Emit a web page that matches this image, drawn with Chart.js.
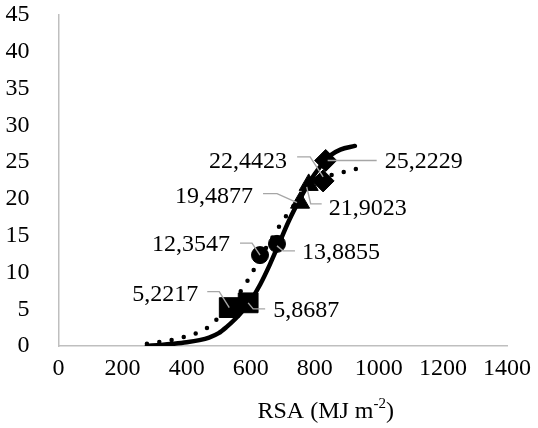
<!DOCTYPE html>
<html><head><meta charset="utf-8">
<script src="https://cdn.jsdelivr.net/npm/chart.js@4/dist/chart.umd.min.js"></script>
<style>html,body{margin:0;padding:0;background:#fff}canvas{display:block}</style>
</head><body>
<canvas id="c" width="538" height="428"></canvas>
<script>
// ---- data ----
const squareX = [533, 592];
const squareY = [5.2217, 5.8687];
const circleX = [629, 682];
const circleY = [12.3547, 13.8855];
const triangleX = [754, 781];
const triangleY = [19.4877, 21.9023];
const diamondX = [826, 834];
const diamondY = [22.4423, 25.2229];

const solidX = [276, 320, 360, 400, 440, 470, 500, 525, 550, 575, 600, 630, 660, 690, 720, 755, 785, 815, 848, 880, 925];
const solidY = [0.05, 0.15, 0.3, 0.5, 0.8, 1.15, 1.75, 2.6, 3.6, 4.8, 6.2, 8.4, 11.1, 14.1, 17.1, 20.1, 22.4, 24.3, 25.9, 26.7, 27.2];
const dottedX = [276, 310, 350, 380, 420, 445, 475, 500, 540, 570, 600, 630, 660, 700, 750, 800, 850, 885, 920, 965];
const dottedY = [0.3, 0.5, 0.8, 1.1, 1.6, 2.0, 2.8, 3.9, 5.9, 7.5, 9.6, 12.0, 14.2, 17.0, 19.9, 21.9, 23.2, 23.6, 24.0, 24.4];

const xMin = 0, xMax = 1400, xStep = 200;
const yMin = 0, yMax = 45, yStep = 5;
const xTitle = 'RSA (MJ m';
const xTitleSup = '-2';
const xTitleEnd = ')';

const pts = (xs, ys) => xs.map((x, i) => ({x, y: ys[i]}));
const FONT = 'Liberation Serif';
const FS = 24;

// label layout (pixel offsets from the marker)
const labelLayout = [
  {ds:0, i:0, tx:-31, ty:-15, align:'right', path:[[-22,-16],[-10,-16],[0,0]]},
  {ds:0, i:1, tx:25, ty:6, align:'left', path:[[0,0],[5,6],[17,6]]},
  {ds:1, i:0, tx:-30, ty:-12, align:'right', path:[[-20,-12],[-8,-12],[0,0]]},
  {ds:1, i:1, tx:25, ty:7, align:'left', path:[[0,2],[6,7],[18,7]]},
  {ds:2, i:0, tx:-47, ty:-8, align:'right', path:[[-37,-9],[-23,-9],[-3,0]]},
  {ds:2, i:1, tx:20, ty:22, align:'left', path:[[-2,2],[2,19],[13,19]]},
  {ds:3, i:0, tx:-36, ty:-21, align:'right', path:[[-26,-24],[-13,-24],[0,-4]]},
  {ds:3, i:1, tx:59, ty:-1, align:'left', path:[[2,0],[51,0]]}
];

const labelPlugin = {
  id: 'labels',
  afterDatasetsDraw(chart) {
    const ctx = chart.ctx;
    ctx.save();
    labelLayout.forEach(l => {
      const el = chart.getDatasetMeta(l.ds).data[l.i];
      const v = chart.data.datasets[l.ds].data[l.i].y;
      const px = el.x, py = el.y;
      ctx.strokeStyle = '#a6a6a6';
      ctx.lineWidth = 1.4;
      ctx.beginPath();
      l.path.forEach((p, k) => { if (k === 0) ctx.moveTo(px + p[0], py + p[1]); else ctx.lineTo(px + p[0], py + p[1]); });
      ctx.stroke();
      ctx.fillStyle = '#000';
      ctx.font = FS + 'px "' + FONT + '"';
      ctx.textAlign = l.align;
      ctx.textBaseline = 'alphabetic';
      ctx.fillText(v.toFixed(4).replace('.', ','), px + l.tx, py + l.ty + 0.34 * FS);
    });
    // x-axis title with superscript
    const ca = chart.chartArea;
    let x = ca.left + 199, y = 418;
    ctx.textAlign = 'left';
    ctx.font = FS + 'px "' + FONT + '"';
    ctx.fillText(xTitle, x, y);
    x += ctx.measureText(xTitle).width;
    ctx.font = '15px "' + FONT + '"';
    ctx.fillText(xTitleSup, x, y - 10);
    x += ctx.measureText(xTitleSup).width;
    ctx.font = FS + 'px "' + FONT + '"';
    ctx.fillText(xTitleEnd, x, y);
    ctx.restore();
  }
};

new Chart(document.getElementById('c'), {
  type: 'scatter',
  data: {
    datasets: [
      {data: pts(squareX, squareY), pointStyle:'rect', pointRadius:14, backgroundColor:'#000', borderColor:'#000', borderWidth:1},
      {data: pts(circleX, circleY), pointStyle:'circle', pointRadius:8.5, backgroundColor:'#000', borderColor:'#000', borderWidth:1},
      {data: pts(triangleX, triangleY), pointStyle:'triangle', pointRadius:11, backgroundColor:'#000', borderColor:'#000', borderWidth:1},
      {data: pts(diamondX, diamondY), pointStyle:'rectRot', pointRadius:11, backgroundColor:'#000', borderColor:'#000', borderWidth:1},
      {data: pts(solidX, solidY), showLine:true, pointRadius:0, borderColor:'#000', borderWidth:4.5, borderCapStyle:'round', tension:0.4, cubicInterpolationMode:'monotone'},
      {data: pts(dottedX, dottedY), showLine:true, pointRadius:0, borderColor:'#000', borderWidth:4.5, borderCapStyle:'round', borderDash:[0, 12.5], tension:0.4, cubicInterpolationMode:'monotone'}
    ]
  },
  options: {
    responsive: false,
    animation: false,
    devicePixelRatio: 1,
    layout: {padding: {left: 0, right: 31, top: 12, bottom: 0}},
    plugins: {legend: {display: false}, tooltip: {enabled: false}},
    scales: {
      x: {
        type: 'linear', min: xMin, max: xMax,
        ticks: {stepSize: xStep, color: '#000', font: {family: FONT, size: FS}, padding: 0, maxRotation: 0, callback: v => String(v)},
        grid: {display: false},
        border: {display: true, color: '#bfbfbf', width: 1.5},
        afterFit(s) { s.height = 82; s.paddingLeft = 0; s.paddingRight = 0; }
      },
      y: {
        type: 'linear', min: yMin, max: yMax,
        ticks: {stepSize: yStep, color: '#000', font: {family: FONT, size: FS}, padding: 21, callback: v => String(v)},
        grid: {display: false},
        border: {display: true, color: '#bfbfbf', width: 1.5},
        afterFit(s) { s.width = 58.5; s.paddingTop = 0; s.paddingBottom = 0; }
      }
    }
  },
  plugins: [labelPlugin]
});
</script>
</body></html>
